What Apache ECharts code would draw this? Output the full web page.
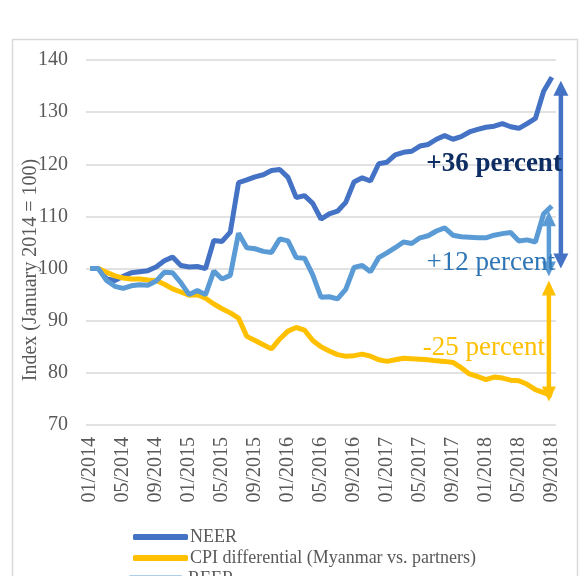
<!DOCTYPE html>
<html>
<head>
<meta charset="utf-8">
<script src="https://cdn.jsdelivr.net/npm/echarts@6/dist/echarts.min.js"></script>
<style>
html,body{margin:0;padding:0;background:#fff;}
#chart{width:579px;height:576px;}
</style>
</head>
<body>
<div id="chart"></div>
<script>
// Monthly categories 01/2014 .. 09/2018
const months = [];
for (let y = 2014; y <= 2018; y++) {
  for (let m = 1; m <= 12; m++) {
    if (y === 2018 && m > 9) break;
    months.push((m < 10 ? '0' + m : '' + m) + '/' + y);
  }
}

const neer = [100,100,98,97.7,98.5,99.2,99.4,99.6,100.3,101.5,102.2,100.6,100.3,100.4,100,
  105.4,105.2,107,116.5,117,117.6,118,118.8,119,117.5,113.6,114,112.5,109.5,110.5,111,112.7,
  116.6,117.4,116.8,120.1,120.4,121.8,122.3,122.5,123.5,123.8,124.8,125.5,124.8,125.3,126.2,
  126.7,127.1,127.3,127.8,127.2,126.9,127.8,128.8,134,136.7];

const cpiDiff = [100,100,99.3,98.6,98.2,98,98,97.8,97.7,97,96.1,95.5,94.9,95,94.3,93.2,92.3,
  91.5,90.5,87,86.2,85.4,84.6,86.5,88,88.7,88.2,86.2,85,84.2,83.5,83.2,83.3,83.6,83.2,82.5,
  82.2,82.5,82.8,82.7,82.6,82.5,82.3,82.2,82,81,79.8,79.3,78.7,79.2,79,78.6,78.5,77.8,76.8,
  76.2,75.6];

const reer = [100,100,97.7,96.6,96.2,96.7,96.9,96.8,97.6,99.3,99.2,97.3,95,95.8,95,99.5,98,
  98.7,106.8,104,103.8,103.3,103.1,105.7,105.3,102.1,102,98.8,94.5,94.6,94.2,96,100.2,100.6,
  99.4,102.1,103,104,105.1,104.8,105.9,106.3,107.2,107.8,106.4,106.1,106,105.9,105.9,106.4,
  106.7,106.9,105.3,105.5,105.1,110.5,112];

const seriesNames = ['NEER', 'CPI differential (Myanmar vs. partners)', 'REER'];
const yTicks = [70, 140, 10];
// annotations: [from value, to value]
const neerArrow = [100, 136];
const reerArrow = [98.5, 111];
const cpiArrow = [74.5, 97.7];
const annoTexts = [['+36 percent', 120], ['+12 percent', 101.1], ['-25 percent', 84.8]];

const FONT = '"Liberation Serif", "Times New Roman", serif';
const GRAY = '#595959';
const C_NEER = '#4472C4', C_CPI = '#FFC000', C_REER = '#5B9BD5';

const chart = echarts.init(document.getElementById('chart'), null, {renderer: 'canvas'});
chart.setOption({
  animation: false,
  backgroundColor: '#fff',
  grid: {left: 86, right: 23, top: 60, bottom: 151},
  xAxis: {
    type: 'category',
    data: months,
    boundaryGap: true,
    axisLine: {show: false},
    axisTick: {show: false},
    axisLabel: {interval: 3, rotate: 90, margin: 12, color: GRAY, fontFamily: FONT, fontSize: 20}
  },
  yAxis: {
    type: 'value',
    min: yTicks[0], max: yTicks[1], interval: yTicks[2],
    name: 'Index (January 2014 = 100)',
    nameLocation: 'middle',
    nameGap: 45,
    nameMoveOverlap: false,
    nameTextStyle: {color: GRAY, fontFamily: FONT, fontSize: 20, padding: [0, 55, 0, 0]},
    axisLine: {show: false},
    axisTick: {show: false},
    axisLabel: {margin: 18, color: GRAY, fontFamily: FONT, fontSize: 20},
    splitLine: {lineStyle: {color: '#d9d9d9', width: 1.5}}
  },
  legend: {
    orient: 'vertical', left: 128, top: 522, height: 60,
    icon: 'roundRect', itemWidth: 55, itemHeight: 6, itemGap: 1,
    data: seriesNames.slice(0, 2),
    textStyle: {color: GRAY, fontFamily: FONT, fontSize: 18, lineHeight: 20, padding: [0, 0, 0, -3]}
  },
  series: [
    {name: seriesNames[0], type: 'line', data: neer, showSymbol: false, symbol: 'none',
     lineStyle: {color: C_NEER, width: 5}, itemStyle: {color: C_NEER}, z: 2},
    {name: seriesNames[1], type: 'line', data: cpiDiff, showSymbol: false, symbol: 'none',
     lineStyle: {color: C_CPI, width: 5}, itemStyle: {color: C_CPI}, z: 2},
    {name: seriesNames[2], type: 'line', data: reer, showSymbol: false, symbol: 'none',
     lineStyle: {color: C_REER, width: 5}, itemStyle: {color: C_REER}, z: 3}
  ]
});

function px(cat, val) {
  return chart.convertToPixel({xAxisIndex: 0, yAxisIndex: 0}, [cat, val]);
}
function arrow(x, v0, v1, color, width, headW, headL) {
  const yA = px(months[months.length - 1], v0)[1];
  const yB = px(months[months.length - 1], v1)[1];
  const top = Math.min(yA, yB), bot = Math.max(yA, yB);
  return [
    {type: 'line', shape: {x1: x, y1: top + headL - 1, x2: x, y2: bot - headL + 1},
     style: {stroke: color, lineWidth: width}, z: 10},
    {type: 'polygon', shape: {points: [[x, top], [x - headW / 2, top + headL], [x + headW / 2, top + headL]]},
     style: {fill: color}, z: 10},
    {type: 'polygon', shape: {points: [[x, bot], [x - headW / 2, bot - headL], [x + headW / 2, bot - headL]]},
     style: {fill: color}, z: 10}
  ];
}
const lastX = px(months[months.length - 1], 100)[0];
let g = [];
g.push({type: 'rect', shape: {x: 12.5, y: 39.5, width: 565, height: 600},
        style: {fill: null, stroke: '#d9d9d9', lineWidth: 1.5}, z: -1, silent: true});
g = g.concat(arrow(lastX + 9, neerArrow[0], neerArrow[1], C_NEER, 4.5, 15, 15));
g = g.concat(arrow(lastX - 3, reerArrow[0], reerArrow[1], C_REER, 4.5, 14, 15));
g = g.concat(arrow(lastX - 3, cpiArrow[0], cpiArrow[1], C_CPI, 4.5, 14, 15));
const tStyles = [
  {color: '#0E2D63', weight: 'bold', dx: 10},
  {color: '#2E75B6', weight: 'normal', dx: 3},
  {color: '#FFC000', weight: 'normal', dx: -7}
];
annoTexts.forEach((t, i) => {
  const p = px(months[months.length - 1], t[1]);
  g.push({type: 'text', x: lastX + tStyles[i].dx, y: p[1], z: 12,
    style: {text: t[0], fill: tStyles[i].color, font: tStyles[i].weight + ' 27px ' + FONT,
            textAlign: 'right', textVerticalAlign: 'middle'}});
});
// third legend entry (REER), cut off by the bottom edge as in the original
g.push({type: 'rect', shape: {x: 128, y: 575, width: 55, height: 6, r: 3},
        style: {fill: C_REER, opacity: 0.5}, z: 12});
g.push({type: 'text', x: 188, y: 579, z: 12,
        style: {text: seriesNames[2], fill: GRAY, font: '18px ' + FONT, textVerticalAlign: 'middle'}});
chart.setOption({graphic: g});
</script>
</body>
</html>
